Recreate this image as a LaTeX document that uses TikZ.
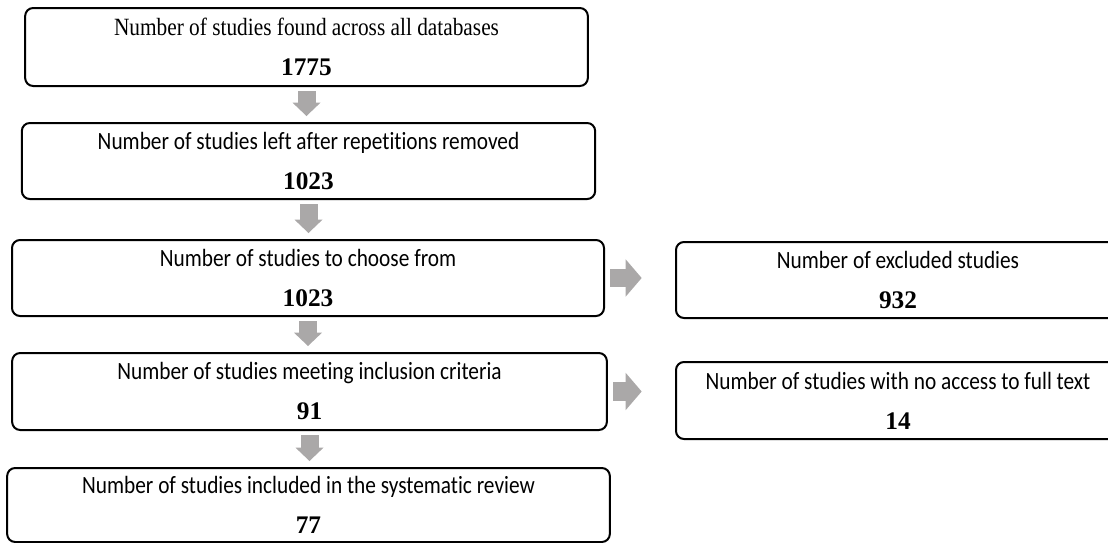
\documentclass[tikz,border=0pt]{standalone}
\usepackage{fontspec}
\usetikzlibrary{arrows.meta}
\setmainfont{Liberation Serif}
\newfontfamily\calibrifont[Ligatures=NoCommon,FakeStretch=0.86]{Carlito}
\newfontfamily\timestitle[FakeStretch=0.86]{Liberation Serif}
\definecolor{arrowgray}{RGB}{170,168,168}
\newcommand{\numtext}[1]{{\rmfamily\bfseries\fontsize{19}{30}\selectfont #1}}

\begin{document}
\begin{tikzpicture}[x=0.75pt,y=0.75pt,yscale=-1,xscale=1]
\tikzset{
  box/.style={draw, line width=1.5pt, rounded corners=6pt, align=center, inner sep=0pt, font=\calibrifont\fontsize{18.6}{30}\selectfont},
  downarrow/.style={arrowgray, line width=13.5pt, -{Triangle[width=21pt,length=10pt,line width=0pt]}, shorten <=3pt, shorten >=4.5pt},
  rightarrow/.style={arrowgray, line width=14pt, -{Triangle[width=28pt,length=12pt,line width=0pt]}, shorten <=4pt, shorten >=25pt}
}
\clip (0,0) rectangle (1108,543);

%Rounded Rect
\node[box, minimum width=422pt, minimum height=58.5pt] (found) at (306.5,47) {{\timestitle Number of studies found across all databases}\\\numtext{1775}};
%Rounded Rect
\node[box, minimum width=430pt, minimum height=57pt] (unique) at (308.5,161) {Number of studies left after repetitions removed\\\numtext{1023}};
%Rounded Rect
\node[box, minimum width=444pt, minimum height=57pt] (screened) at (308,278) {Number of studies to choose from\\\numtext{1023}};
%Rounded Rect
\node[box, minimum width=333pt, minimum height=57pt] (excluded) at (898,280) {Number of excluded studies\\\numtext{932}};
%Rounded Rect
\node[box, minimum width=446pt, minimum height=57.75pt] (eligible) at (309.5,391.5) {Number of studies meeting inclusion criteria\\\numtext{91}};
%Rounded Rect
\node[box, minimum width=333pt, minimum height=57.75pt] (noaccess) at (898,400.5) {Number of studies with no access to full text\\\numtext{14}};
%Rounded Rect
\node[box, minimum width=452pt, minimum height=55.5pt] (included) at (308.5,505) {Number of studies included in the systematic review\\\numtext{77}};

%Straight Lines
\draw[downarrow] (found.south) -- (found.south |- unique.north);
\draw[downarrow] (unique.south) -- (unique.south |- screened.north);
\draw[downarrow] (screened.south) -- (screened.south |- eligible.north);
\draw[downarrow] (eligible.south) -- (eligible.south |- included.north);
%Straight Lines
\draw[rightarrow] (screened.east) -- (screened.east -| excluded.west);
\draw[rightarrow] (eligible.east) -- (eligible.east -| noaccess.west);

\end{tikzpicture}
\end{document}
